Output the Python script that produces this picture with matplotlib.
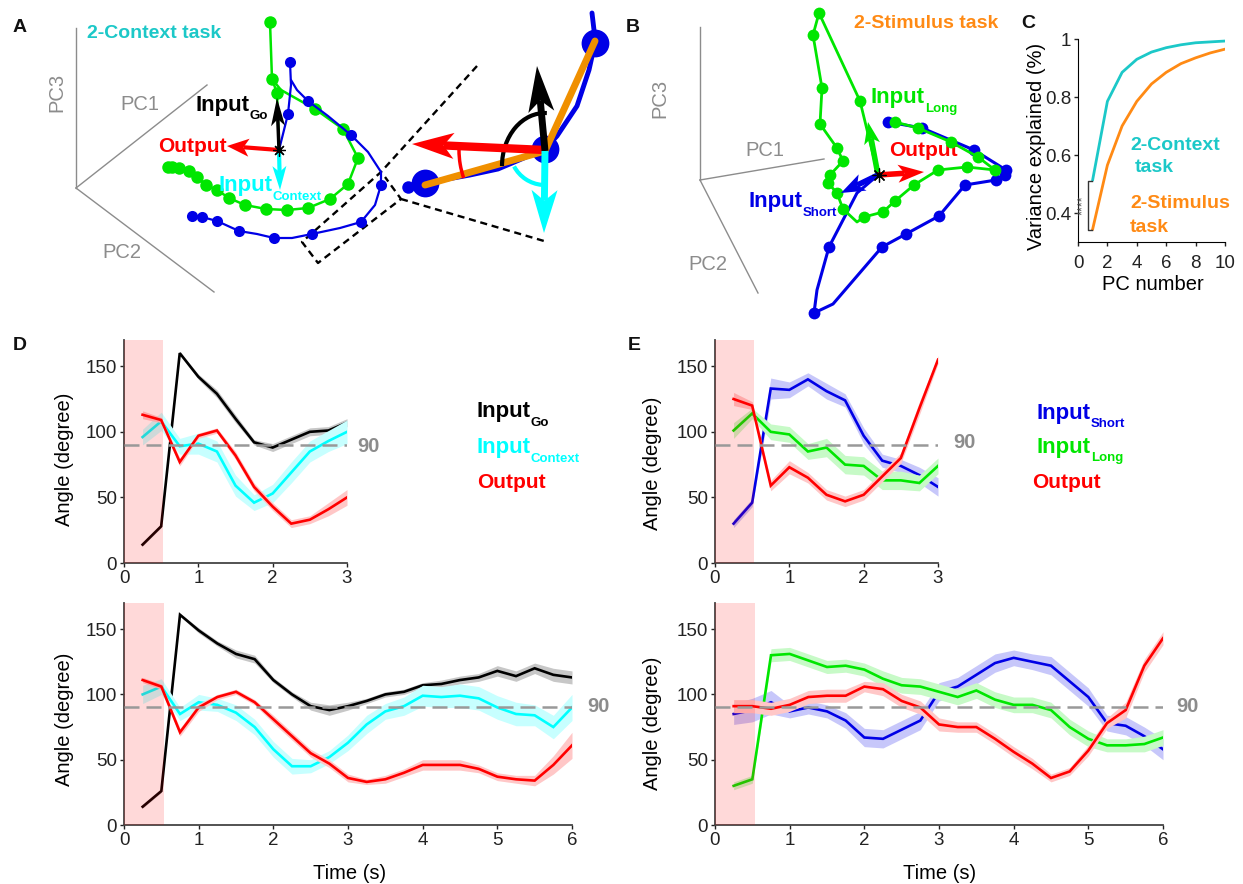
import numpy as np
import matplotlib
matplotlib.use('Agg')
import matplotlib.pyplot as plt
from matplotlib.patches import Arc, Polygon

plt.rcParams['font.family'] = ['Liberation Sans', 'DejaVu Sans']

W, H = 1243, 884
BLACK, CYAN, RED, BLUE, GREEN = '#000000', '#00FFFF', '#FF0000', '#0000E6', '#00E600'
TEAL, ORANGE, GREY = '#1CC8C8', '#FF8A14', '#8C8C8C'

# ---------- angle data ----------
t_short = [0.25 * i for i in range(1, 13)]
t_long = [0.25 * i for i in range(1, 25)]

d1_go = [14, 28, 160, 142, 129, 110, 92, 88, 94, 100, 101, 107]
d1_go_e = [1, 1, 1, 2, 3, 3, 2, 3, 3, 3, 3, 3]
d1_ctx = [96, 108, 89, 91, 85, 59, 46, 53, 69, 85, 93, 100]
d1_ctx_e = [6, 7, 6, 8, 8, 8, 6, 7, 8, 8, 8, 9]
d1_out = [113, 109, 77, 97, 101, 82, 58, 43, 30, 33, 41, 50]
d1_out_e = [3, 2, 3, 2, 2, 3, 3, 3, 3, 3, 5, 6]

d2_go = [14, 26, 161, 149, 139, 131, 127, 111, 100, 91, 88, 91, 95, 100, 102, 107, 108, 111, 113, 118, 114, 120, 115, 113]
d2_go_e = [1, 1, 1, 2, 2, 3, 3, 2, 2, 3, 4, 3, 2, 2, 2, 2, 3, 3, 3, 4, 4, 4, 5, 5]
d2_ctx = [100, 106, 85, 94, 92, 86, 75, 58, 45, 45, 52, 63, 77, 87, 91, 99, 98, 99, 97, 90, 85, 84, 75, 90]
d2_ctx_e = [7, 6, 5, 6, 5, 6, 6, 6, 6, 5, 5, 6, 7, 6, 7, 8, 8, 9, 9, 9, 9, 8, 9, 10]
d2_out = [111, 106, 71, 90, 98, 102, 94, 81, 68, 55, 47, 36, 33, 35, 40, 46, 46, 46, 43, 37, 35, 34, 46, 61]
d2_out_e = [2, 2, 3, 3, 2, 2, 2, 3, 3, 3, 3, 3, 2, 3, 3, 4, 4, 4, 3, 3, 3, 4, 7, 10]

e1_short = [30, 46, 133, 132, 140, 131, 124, 97, 78, 74, 67, 58]
e1_short_e = [3, 3, 8, 6, 5, 6, 5, 6, 5, 5, 6, 7]
e1_long = [101, 114, 100, 98, 85, 88, 75, 74, 63, 63, 61, 74]
e1_long_e = [6, 4, 6, 6, 6, 7, 7, 7, 7, 7, 6, 6]
e1_out = [125, 120, 59, 73, 65, 52, 47, 52, 66, 80, 118, 155]
e1_out_e = [5, 3, 4, 5, 4, 4, 4, 4, 4, 4, 5, 3]

e2_short = [85, 88, 94, 87, 90, 87, 80, 67, 66, 73, 80, 102, 106, 115, 124, 128, 125, 122, 110, 98, 78, 76, 68, 58]
e2_short_e = [8, 9, 9, 5, 5, 5, 6, 7, 7, 7, 7, 7, 7, 7, 7, 6, 6, 7, 7, 7, 6, 7, 7, 8]
e2_long = [30, 35, 130, 131, 126, 121, 122, 119, 112, 107, 106, 102, 98, 103, 96, 92, 92, 88, 75, 66, 61, 61, 62, 67]
e2_long_e = [3, 3, 5, 5, 5, 5, 5, 5, 6, 6, 6, 6, 6, 6, 6, 6, 6, 6, 6, 6, 5, 5, 6, 6]
e2_out = [91, 91, 89, 92, 98, 99, 99, 106, 104, 95, 90, 77, 75, 75, 66, 56, 47, 36, 41, 57, 78, 88, 122, 143]
e2_out_e = [5, 5, 5, 5, 5, 5, 5, 4, 5, 5, 5, 5, 4, 4, 4, 4, 4, 3, 3, 4, 4, 6, 5, 5]

# ---------- variance explained ----------
pc_number = list(range(1, 11))
var_context = [.515, .785, .885, .93, .955, .97, .98, .987, .99, .993]
var_stimulus = [.345, .565, .70, .785, .845, .885, .915, .935, .952, .965]

# ---------- schematic trajectories, read in image pixels ----------
a_green_1 = [(279, 150), (277, 93), (272, 79), (270, 22)]
a_green_2 = [(272, 79), (281, 90), (315, 109), (343, 129), (358, 158), (348, 184), (330, 199), (308, 208), (287, 210),
             (266, 209), (245, 205), (229, 198), (217, 190), (206, 185), (197, 177), (189, 171), (179, 168), (172, 167), (168, 167)]
a_green_dots = a_green_1[1:] + a_green_2[2:]
a_blue_1 = [(279, 150), (288, 114), (291, 85), (290, 62)]
a_blue_2 = [(291, 80), (297, 90), (308, 101), (328, 116), (351, 135), (368, 152), (381, 172), (381, 185), (375, 205),
            (361, 222), (340, 228), (312, 234), (292, 238), (274, 238), (257, 234), (239, 231), (217, 221), (202, 217), (192, 216)]
a_blue_dots = [(290, 62), (288, 114), (308, 101), (351, 135), (381, 185), (361, 222), (312, 234), (274, 238), (239, 231),
               (217, 221), (202, 217), (192, 216)]
a_inset_blue = [(592, 13), (594, 30), (595, 43), (589, 70), (577, 106), (557, 136), (545, 149), (498, 169), (470, 175), (425, 183), (408, 187)]
a_inset_big = [(595, 43), (545, 149), (425, 183)]
a_orange = [(595, 41), (545, 151), (425, 185)]
a_dash_1 = [(477, 66), (381, 172), (302, 242), (318, 263), (401, 199), (385, 177)]
a_dash_2 = [(401, 199), (544, 241)]

b_green = [(878, 175), (860, 101), (819, 13), (813, 35), (822, 88), (820, 124), (837, 148), (843, 161), (830, 175), (828, 183),
           (837, 193), (843, 209), (857, 222), (864, 217), (883, 212), (895, 201), (914, 185), (938, 170), (967, 167), (995, 170),
           (978, 157), (951, 142), (918, 128), (895, 122)]
b_green_dots = [p for p in b_green if p not in [(878, 175), (857, 222)]]
b_blue = [(878, 175), (857, 193), (843, 220), (829, 247), (817, 290), (814, 313), (833, 304), (882, 247), (906, 234), (939, 216),
          (965, 185), (996, 180), (1005, 175), (1006, 170), (974, 150), (922, 128), (888, 122)]
b_blue_dots = [(829, 247), (814, 313), (882, 247), (906, 234), (939, 216), (965, 185), (996, 180), (1005, 175), (1006, 170),
               (974, 150), (922, 128), (888, 122)]

fig = plt.figure(figsize=(W / 100, H / 100), dpi=100)


def make_axes(x0, x1, ytop, ybot):
    return fig.add_axes([x0 / W, 1 - ybot / H, (x1 - x0) / W, (ybot - ytop) / H])


def angle_panel(box, t, series, xmax, label_x, label_y):
    ax = make_axes(*box)
    for k, (y, e, c) in enumerate(series):
        y, e = np.array(y, float), np.array(e, float)
        light = matplotlib.colors.to_rgb(c)
        band = tuple(0.78 + 0.22 * v for v in light)
        ax.fill_between(t, y - e, y + e, color=band, lw=0, zorder=2 + 2 * k)
        ax.plot(t, y, color=c, lw=1.9, zorder=3 + 2 * k, solid_joinstyle='miter')
    ax.axvspan(0, 0.53, color='#FF0000', alpha=0.15, lw=0, zorder=10)
    ax.axhline(90, color='#999999', lw=1.8, dashes=(6, 2.8), zorder=11)
    ax.set_xlim(0, xmax)
    ax.set_ylim(0, 170)
    ax.set_xticks(range(0, xmax + 1))
    ax.set_yticks([0, 50, 100, 150])
    ax.tick_params(labelsize=13.5, length=3, width=1, pad=2, colors='#222222')
    for s in ['top', 'right']:
        ax.spines[s].set_visible(False)
    for s in ['left', 'bottom']:
        ax.spines[s].set_color('#444444')
        ax.spines[s].set_linewidth(1.3)
    ax.set_ylabel('Angle (degree)', fontsize=14.5)
    ax.yaxis.set_label_coords(label_x / W, 1 - label_y / H, transform=fig.transFigure)
    return ax


d1 = angle_panel((124, 347, 340, 563), t_short, [(d1_go, d1_go_e, BLACK), (d1_ctx, d1_ctx_e, CYAN), (d1_out, d1_out_e, RED)], 3, 74, 459)
d2 = angle_panel((124, 572, 603, 825), t_long, [(d2_go, d2_go_e, BLACK), (d2_ctx, d2_ctx_e, CYAN), (d2_out, d2_out_e, RED)], 6, 74, 719)
e1 = angle_panel((715, 938, 340, 563), t_short, [(e1_short, e1_short_e, BLUE), (e1_long, e1_long_e, GREEN), (e1_out, e1_out_e, RED)], 3, 662, 463)
e2 = angle_panel((715, 1163, 603, 825), t_long, [(e2_short, e2_short_e, BLUE), (e2_long, e2_long_e, GREEN), (e2_out, e2_out_e, RED)], 6, 662, 723)
for ax, xc in [(d2, 350), (e2, 940)]:
    ax.set_xlabel('Time (s)', fontsize=14.5)
    ax.xaxis.set_label_coords(xc / W, 1 - 864 / H, transform=fig.transFigure)

# panel C
c = make_axes(1078, 1225, 39, 242)
c.plot(pc_number, var_context, color=TEAL, lw=2)
c.plot(pc_number, var_stimulus, color=ORANGE, lw=2)
c.set_xlim(0, 10)
c.set_ylim(0.3, 1)
c.set_xticks([0, 2, 4, 6, 8, 10])
c.set_yticks([0.4, 0.6, 0.8, 1])
c.set_yticklabels(['0.4', '0.6', '0.8', '1'])
c.tick_params(labelsize=13.5, length=3, width=1, pad=2, colors='#222222')
c.tick_params(axis='x', pad=6)
for s in ['top', 'right']:
    c.spines[s].set_visible(False)
c.set_xlabel('PC number', fontsize=14.5)
c.xaxis.set_label_coords(1153 / W, 1 - 275 / H, transform=fig.transFigure)
c.set_ylabel('Variance explained (%)', fontsize=14.5)
c.yaxis.set_label_coords(1046 / W, 1 - 146 / H, transform=fig.transFigure)

# overlay in image pixels
ov = fig.add_axes([0, 0, 1, 1], zorder=20)
ov.set_xlim(0, W)
ov.set_ylim(H, 0)
ov.axis('off')
ov.patch.set_alpha(0)


def poly(points, color, lw=1.6, **kw):
    xs, ys = zip(*points)
    ov.plot(xs, ys, color=color, lw=lw, solid_capstyle='round', **kw)


def dots(points, color, ms=7.5, z=3):
    xs, ys = zip(*points)
    ov.plot(xs, ys, ls='', marker='o', color=color, ms=ms, mew=0, zorder=z)


def arrow(start, tip, color, lw=3, head=20, half=9, z=6):
    s, e = np.array(start, float), np.array(tip, float)
    u = (e - s) / np.linalg.norm(e - s)
    n = np.array([-u[1], u[0]])
    base = e - u * head
    notch = e - u * head * 0.75
    ov.plot([s[0], notch[0]], [s[1], notch[1]], color=color, lw=lw, zorder=z, solid_capstyle='butt')
    ov.add_patch(Polygon([e, base + n * half, notch, base - n * half], closed=True, fc=color, ec='none', zorder=z))


def label(x, y, main, sub, color, sub_fs=9.5):
    fs = 16 if main == 'Input' else 15
    tx = ov.text(x, y, main, color=color, fontsize=fs, fontweight='bold', va='center', ha='left')
    if sub:
        w = tx.get_window_extent(fig.canvas.get_renderer()).width
        ov.text(x + w, y + 11, sub, color=color, fontsize=sub_fs, fontweight='bold', va='center', ha='left')


# panel letters
for letter, x, y in [('A', 13, 28), ('B', 626, 28), ('C', 1021, 24), ('D', 13, 345), ('E', 628, 345)]:
    ov.text(x, y, letter, fontsize=14, fontweight='bold', va='center', ha='left', color='#111111')

# 3D axes of A and B
for o, e1p, e2p, e3p in [((76, 188), (76, 28), (207, 85), (214, 292)), ((700, 180), (700, 27), (824, 159), (758, 293))]:
    for p in (e1p, e2p, e3p):
        ov.plot([o[0], p[0]], [o[1], p[1]], color=GREY, lw=1)
for x, y, s, r in [(57, 92, 'PC3', 90), (140, 105, 'PC1', 0), (122, 252, 'PC2', 0),
                   (660, 98, 'PC3', 90), (765, 150, 'PC1', 0), (708, 265, 'PC2', 0)]:
    ov.text(x, y, s, color=GREY, fontsize=14.5, rotation=r, ha='center', va='center')

# panel A
poly(a_green_1, GREEN, 1.8)
poly(a_green_2, GREEN, 1.8)
dots(a_green_dots, GREEN, 9)
poly(a_blue_1, BLUE, 1.6, zorder=4)
poly(a_blue_2, BLUE, 1.6, zorder=4)
dots(a_blue_dots, BLUE, 8, 4)
poly(a_inset_blue, BLUE, 3.5, zorder=4)
dots(a_inset_big, BLUE, 20, 4)
dots(a_inset_blue[-1:], BLUE, 9, 4)
poly(a_orange, '#F09000', 5, zorder=5)
poly(a_dash_1, 'black', 1.7, ls=(0, (3, 2)))
poly(a_dash_2, 'black', 1.7, ls=(0, (3, 2)))
arrow((279, 150), (227, 146), RED, 3, 22, 9)
arrow((279, 150), (277, 98), BLACK, 2.5, 28, 7)
arrow((279, 150), (280, 190), CYAN, 3, 24, 7)
ov.plot([279], [150], marker=(8, 2, 0), color='black', ms=9, mew=0.9, zorder=8)
arrow((545, 150), (412, 144), RED, 6, 42, 13, z=7)
arrow((545, 151), (537, 66), BLACK, 5, 46, 13, z=7)
arrow((545, 151), (544, 233), CYAN, 5, 43, 13, z=7)
ov.add_patch(Arc((545, 166), 86, 106, theta1=180, theta2=272, color='black', lw=3, zorder=6))
ov.add_patch(Arc((545, 150), 172, 172, theta1=161, theta2=180, color=RED, lw=2.5, zorder=6))
ov.add_patch(Arc((545, 150), 70, 70, theta1=95, theta2=152, color=CYAN, lw=3, zorder=6))
ov.text(87, 33, '2-Context task', color=TEAL, fontsize=14, fontweight='bold', va='center')
label(196, 105, 'Input', 'Go', BLACK)
label(158, 146, 'Output', None, RED)
label(219, 186, 'Input', 'Context', CYAN)

# panel B
poly(b_blue, BLUE, 2.2, zorder=3)
dots(b_blue_dots, BLUE, 8.5, 3)
poly(b_green, GREEN, 2.0, zorder=4)
dots(b_green_dots, GREEN, 8.5, 4)
arrow((878, 175), (868, 122), GREEN, 4, 22, 8)
arrow((878, 175), (841, 193), BLUE, 4, 24, 9)
arrow((878, 175), (924, 172), RED, 4, 26, 9)
ov.plot([879], [175], marker=(8, 2, 0), color='black', ms=10, mew=0.9, zorder=8)
ov.text(854, 24, '2-Stimulus task', color=ORANGE, fontsize=14, fontweight='bold', va='center')
label(871, 98, 'Input', 'Long', GREEN)
label(889, 151, 'Output', None, RED)
label(749, 202, 'Input', 'Short', BLUE)

# panel C annotations
ov.text(1130, 145, '2-Context', color=TEAL, fontsize=14, fontweight='bold', va='center')
ov.text(1135, 168, 'task', color=TEAL, fontsize=14, fontweight='bold', va='center')
ov.text(1130, 203, '2-Stimulus', color=ORANGE, fontsize=14, fontweight='bold', va='center')
ov.text(1130, 228, 'task', color=ORANGE, fontsize=14, fontweight='bold', va='center')
ov.plot([1092, 1088, 1088, 1092], [181, 181, 230, 230], color='#333333', lw=1)
ov.text(1083, 205, '****', fontsize=9, rotation=90, color='#555555', ha='center', va='center')

# 90 labels
for x, y in [(368, 446), (598, 707), (964, 443), (1187, 707)]:
    ov.text(x, y, '90', color=GREY, fontsize=14.5, fontweight='bold', ha='center', va='center')

# right side legends
label(477, 412, 'Input', 'Go', BLACK)
label(477, 448, 'Input', 'Context', CYAN)
label(477, 482, 'Output', None, RED)
label(1037, 413, 'Input', 'Short', BLUE)
label(1037, 447, 'Input', 'Long', GREEN)
label(1032, 483, 'Output', None, RED)

fig.savefig('out.png', dpi=100)
